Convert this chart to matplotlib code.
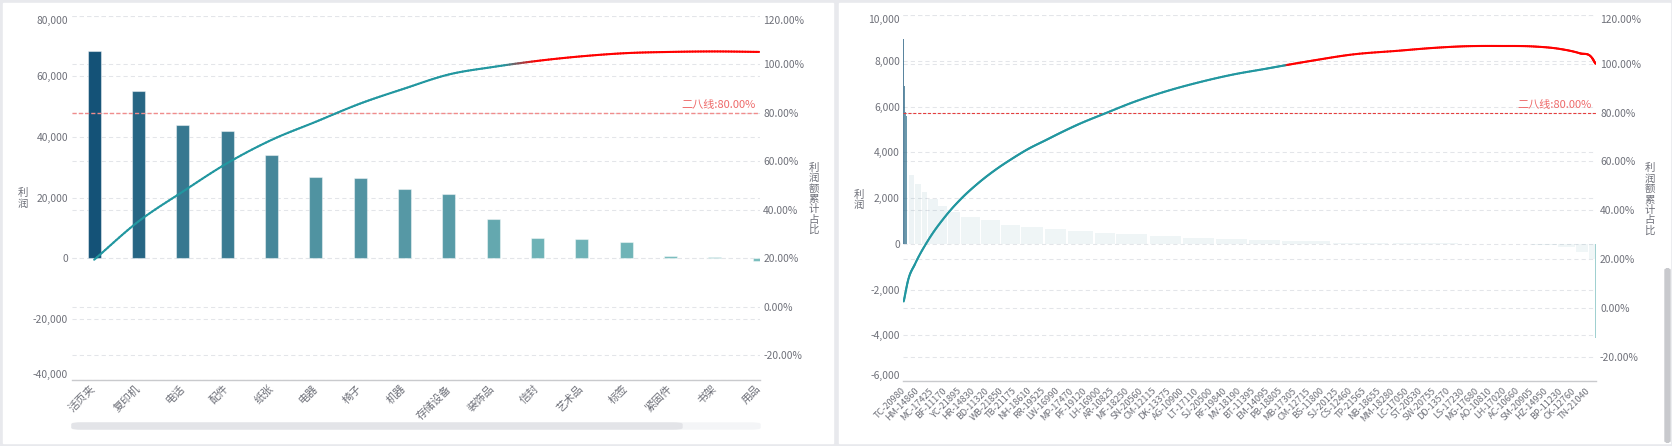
import matplotlib
matplotlib.use("Agg")
import matplotlib.pyplot as plt
import matplotlib.transforms as mtransforms
from matplotlib.collections import LineCollection
from matplotlib.colors import LinearSegmentedColormap, Normalize, to_rgb
from matplotlib.patches import Rectangle, FancyBboxPatch
import numpy as np

plt.rcParams["font.family"] = ["Noto Sans CJK SC", "DejaVu Sans"]

# ---- left chart: profit per sub-category (pareto) ----
categories = ["活页夹", "复印机", "电话", "配件", "纸张", "电器", "椅子", "机器",
              "存储设备", "装饰品", "信封", "艺术品", "标签", "紧固件", "书架", "用品"]
cat_profit = [68500, 55300, 44100, 41900, 34000, 26700, 26400, 22700,
              21100, 12900, 6600, 6300, 5300, 660, 330, -900]
cat_cum_pct = [19.4, 35.2, 47.5, 59.2, 68.8, 76.3, 83.8, 90.0,
               95.8, 98.9, 101.4, 103.3, 104.6, 105.1, 105.3, 105.1]

# ---- right chart: profit per customer, 793 customers ranked, every 16th labelled ----
customer_ids = ["TC-20980", "HM-14860", "MC-17425", "BF-11170", "YC-21895", "HR-14830",
                "BD-11320", "WB-21850", "TB-21175", "NH-18610", "RR-19525", "LW-16990",
                "MP-17470", "PF-19120", "LH-16900", "AR-10825", "MF-18250", "SN-20560",
                "CM-12115", "DK-13375", "AG-10900", "LT-17110", "SJ-20500", "RF-19840",
                "MV-18190", "BT-11395", "EM-14095", "PB-18805", "MB-17305", "CM-12715",
                "BS-11800", "SJ-20125", "CS-12460", "TP-21565", "NB-18655", "MM-18280",
                "LC-17050", "ST-20530", "SW-20755", "DD-13570", "LS-17230", "MG-17680",
                "AO-10810", "LH-17020", "AC-10660", "SM-20905", "HZ-14950", "BP-11230",
                "CK-12760", "TN-21040"]
label_step = 16
n_customers = 793
# bar heights read at these customer ranks
cust_bar_rank = [0, 1, 2, 3, 4, 5, 6, 7, 13, 21, 28, 40, 51, 66, 89, 112, 135, 162,
                 188, 219, 244, 282, 320, 358, 396, 434, 492, 560, 640, 683, 720,
                 750, 770, 785, 792]
cust_bar_profit = [8970, 6900, 5740, 5600, 5420, 4700, 3850, 3000, 2630, 2260, 1970,
                   1630, 1380, 1190, 1020, 840, 730, 630, 550, 490, 440, 320, 260,
                   190, 150, 100, 40, 15, 0, -30, -60, -150, -350, -650, -4140]
# cumulative share read at these customer ranks
cust_line_rank = [0, 5, 13, 28, 47, 66, 85, 104, 124, 143, 162, 181, 200, 230, 263,
                  301, 339, 377, 415, 440, 473, 511, 568, 606, 644, 683, 721, 751,
                  774, 788, 792]
cust_line_pct = [2.6, 11.3, 18.0, 27.7, 37.2, 44.8, 51.0, 56.3, 61.1, 65.2, 68.6, 72.0,
                 75.2, 79.6, 84.3, 88.8, 92.5, 95.6, 98.0, 99.6, 101.6, 103.7, 105.4,
                 106.5, 107.2, 107.3, 107.1, 106.1, 104.3, 102.4, 100.0]

pct_ticks = [-20, 0, 20, 40, 60, 80, 100, 120]
pareto_line = 80

W, H = 1672, 446
TXT = "#6e7079"
GRID = "#e3e5e9"
TEAL = "#2297a0"
RED = "#ff0000"
bar_cmap = LinearSegmentedColormap.from_list("bars", ["#78bdbd", "#145277"])

fig = plt.figure(figsize=(W / 100, H / 100), dpi=100)
fig.patch.set_facecolor("#e8e9ed")


def px_rect(x0, y0, x1, y1):
    return (x0 / W, 1 - y1 / H, (x1 - x0) / W, (y1 - y0) / H)


def add_px_axes(x0, y0, x1, y1):
    return fig.add_axes(px_rect(x0, y0, x1, y1))


def vtext(x, yc, s, size=7.5, step=10.4):
    # characters stacked vertically, like the echarts axis name
    y0 = yc - step * (len(s) - 1) / 2
    for i, ch in enumerate(s):
        fig.text(x / W, 1 - (y0 + i * step) / H, ch, ha="center", va="center",
                 fontsize=size, color=TXT)


def hermite(x, y, per=16):
    x = np.asarray(x, float)
    y = np.asarray(y, float)
    m = np.gradient(y, x)
    xs, ys = [], []
    for i in range(len(x) - 1):
        h = x[i + 1] - x[i]
        t = np.linspace(0, 1, per, endpoint=False)
        h00 = 2 * t**3 - 3 * t**2 + 1
        h10 = t**3 - 2 * t**2 + t
        h01 = -2 * t**3 + 3 * t**2
        h11 = t**3 - t**2
        xs.append(x[i] + t * h)
        ys.append(h00 * y[i] + h10 * h * m[i] + h01 * y[i + 1] + h11 * h * m[i + 1])
    xs.append([x[-1]])
    ys.append([y[-1]])
    return np.concatenate(xs), np.concatenate(ys)


def draw_cum(ax, x, y, lo, hi):
    xs, ys = hermite(x, y)
    pts = np.column_stack([xs, ys]).reshape(-1, 1, 2)
    segs = np.concatenate([pts[:-1], pts[1:]], axis=1)
    mid = (ys[:-1] + ys[1:]) / 2
    f = np.clip((mid - lo) / (hi - lo), 0, 1)[:, None]
    cols = (1 - f) * np.array(to_rgb(TEAL)) + f * np.array(to_rgb(RED))
    lc = LineCollection(segs, colors=cols, linewidths=1.5, capstyle="round",
                        joinstyle="round", zorder=3)
    ax.add_collection(lc)


def style_axes(ax, ax2, yticks, yfmt, pad_l, pad_r):
    for a in (ax, ax2):
        for side in ("top", "left", "right"):
            a.spines[side].set_visible(False)
    ax2.spines["bottom"].set_visible(False)
    ax.spines["bottom"].set_color("#c9cacd")
    ax.spines["bottom"].set_linewidth(1.0)
    ax.set_yticks(yticks)
    ax.set_yticklabels([yfmt(v) for v in yticks])
    ax.tick_params(axis="y", length=0, pad=pad_l, labelsize=7.4, labelcolor=TXT)
    ax2.set_ylim(-30, 120)
    ax2.set_yticks(pct_ticks)
    ax2.set_yticklabels([f"{v:.2f}%" for v in pct_ticks])
    ax2.tick_params(axis="y", length=0, pad=pad_r, labelsize=7.4, labelcolor=TXT)
    ylab = ax.get_yticklabels()
    ylab[-1].set_va("top")
    ylab[0].set_va("bottom")
    ax2.get_yticklabels()[-1].set_va("top")
    ax.set_axisbelow(True)
    ax.yaxis.grid(True, color=GRID, lw=0.75, ls=(0, (4, 3)), zorder=0.5)
    tr = mtransforms.blended_transform_factory(ax.transAxes, ax2.transData)
    for v in pct_ticks:
        ax.plot([0, 1], [v, v], transform=tr, color=GRID, lw=0.75, ls=(0, (4, 3)),
                zorder=0.5)


def pareto_mark(ax2, color, lw, dashes):
    ax2.axhline(pareto_line, color=color, lw=lw, ls=(0, dashes), zorder=2.5)
    ax2.annotate(f"二八线:{pareto_line:.2f}%", xy=(1, pareto_line),
                 xycoords=("axes fraction", "data"), xytext=(-3, 2.2),
                 textcoords="offset points", ha="right", va="bottom",
                 fontsize=8, color="#ee6a6a")


# panels
fig.patches.append(Rectangle(px_rect(3, 3, 833, 443)[:2], 830 / W, 440 / H,
                             transform=fig.transFigure, color="white", zorder=-5))
fig.patches.append(Rectangle(px_rect(839, 3, 1670, 443)[:2], 831 / W, 440 / H,
                             transform=fig.transFigure, color="white", zorder=-5))

# ---------------- left chart ----------------
ax1 = add_px_axes(72, 15.8, 760, 379.5)
ax1.patch.set_alpha(0)
ax1b = ax1.twinx()
xi = np.arange(len(categories))
norm1 = Normalize(min(cat_profit), max(cat_profit))
ax1.bar(xi, cat_profit, width=0.29, color=bar_cmap(norm1(cat_profit)),
        edgecolor=(1, 1, 1, 0.45), linewidth=0.8, zorder=2)
ax1.set_xlim(-0.5, 15.02)
ax1.set_ylim(-40000, 80000)
ax1.set_xticks(xi)
ax1.set_xticklabels(categories, rotation=45, ha="right", va="center",
                    rotation_mode="anchor", fontsize=7.8, color=TXT)
ax1.tick_params(axis="x", length=0, pad=5.3)
style_axes(ax1, ax1b, list(range(-40000, 80001, 20000)),
           lambda v: f"{v:,}", 2.9, 2.3)
draw_cum(ax1b, xi, cat_cum_pct, 99.6, 101.4)
pareto_mark(ax1b, "#f08c8c", 1.0, (3, 1.5))
vtext(23.3, 198.5, "利润")
vtext(813.5, 199, "利润额累计占比")

# data-zoom slider under the left chart
fig.patches.append(FancyBboxPatch((72 / W, 1 - 429 / H), 688 / W, 6 / H,
                                  boxstyle="round,pad=0,rounding_size=0.006",
                                  transform=fig.transFigure, color="#f4f5f7",
                                  mutation_aspect=H / W * 2, zorder=1))
fig.patches.append(FancyBboxPatch((72 / W, 1 - 429 / H), 610 / W, 6 / H,
                                  boxstyle="round,pad=0,rounding_size=0.006",
                                  transform=fig.transFigure, color="#e3e4e8",
                                  mutation_aspect=H / W * 2, zorder=1))

# ---------------- right chart ----------------
ax2 = add_px_axes(903.3, 15, 1596, 381)
ax2.patch.set_alpha(0)
ax2b = ax2.twinx()
ranks = np.array(cust_bar_rank)
spans = np.diff(np.append(ranks, n_customers))
norm2 = Normalize(min(cust_bar_profit), max(cust_bar_profit))
cols2 = bar_cmap(norm2(cust_bar_profit))
single = spans <= 1
cols2[:, 3] = np.where(single, 0.7, 0.09)
ax2.bar(ranks - np.where(single, 0.3, 0.45), cust_bar_profit,
        width=np.where(single, 0.6, spans * 0.93), align="edge",
        color=cols2, linewidth=0, zorder=2)
ax2.set_xlim(-0.5, n_customers - 0.5)
ax2.set_ylim(-6000, 10000)
tick_r = np.arange(len(customer_ids)) * label_step
ax2.set_xticks(tick_r)
ax2.set_xticklabels(customer_ids, rotation=45, ha="right", va="center",
                    rotation_mode="anchor", fontsize=6.6, color=TXT)
ax2.tick_params(axis="x", length=0, pad=6.0)
style_axes(ax2, ax2b, list(range(-6000, 10001, 2000)),
           lambda v: f"{v:,}", 2.4, 2.9)
draw_cum(ax2b, cust_line_rank, cust_line_pct, 99.4, 99.6)
pareto_mark(ax2b, "#e53e3e", 0.8, (2.8, 1.6))
vtext(859, 200, "利润")
vtext(1649.5, 199.5, "利润额累计占比")

# page scrollbar on the right edge
fig.patches.append(FancyBboxPatch((1665 / W, 1 - 442 / H), 5 / W, 173 / H,
                                  boxstyle="round,pad=0,rounding_size=0.002",
                                  transform=fig.transFigure, color="#c8c9cd",
                                  zorder=1))

fig.savefig("out.png", dpi=100, facecolor=fig.get_facecolor())
